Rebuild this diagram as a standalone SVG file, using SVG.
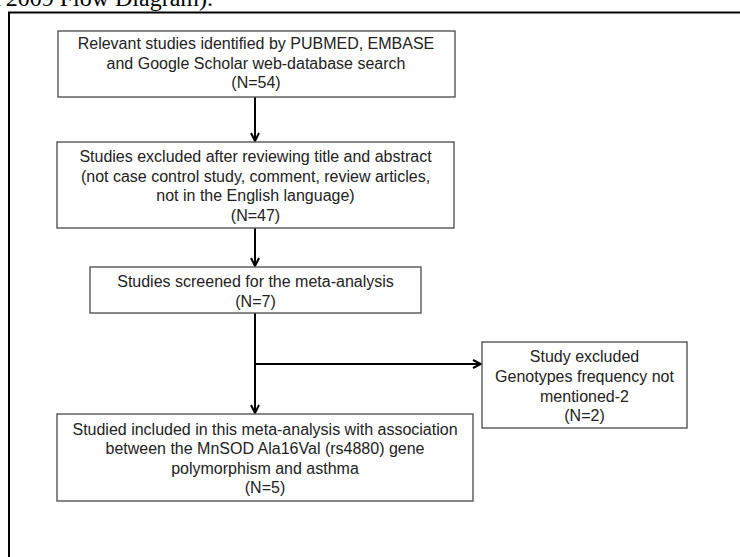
<svg xmlns="http://www.w3.org/2000/svg" width="740" height="557" viewBox="0 0 740 557">
<style>
.box{fill:#fff;stroke:#555;stroke-width:1.4}
.t{font-family:"Liberation Sans",Arial,sans-serif;font-size:16px;fill:#222;text-anchor:middle}
.c{fill:none;stroke:#000;stroke-width:2}
.cap{font-family:"Liberation Serif","Times New Roman",serif;font-size:24px;fill:#000;text-anchor:end}
</style>
<defs>
<marker id="ah" viewBox="0 0 10 10" refX="9" refY="5" markerWidth="10" markerHeight="10" markerUnits="userSpaceOnUse" orient="auto">
<path d="M1,1 L9,5 L1,9" fill="none" stroke="#000" stroke-width="2"/>
</marker>
</defs>
<rect width="740" height="557" fill="#fff"/>
<text class="cap" x="213" y="6">(PRISMA 2009 Flow Diagram).</text>
<path d="M9,557 V12.5 H740" fill="none" stroke="#000" stroke-width="2"/>
<g id="connectors">
<line class="c" x1="255" y1="97" x2="255" y2="141" marker-end="url(#ah)"/>
<line class="c" x1="255" y1="228" x2="255" y2="266" marker-end="url(#ah)"/>
<line class="c" x1="255" y1="313" x2="255" y2="413" marker-end="url(#ah)"/>
<line class="c" x1="255" y1="364" x2="481" y2="364" marker-end="url(#ah)"/>
</g>
<g id="n1">
<rect class="box" x="58" y="31" width="397" height="66"/>
<text class="t" x="256" y="49">Relevant studies identified by PUBMED, EMBASE</text>
<text class="t" x="256" y="68.5">and Google Scholar web-database search</text>
<text class="t" x="256" y="88">(N=54)</text>
</g>
<g id="n2">
<rect class="box" x="57" y="142" width="397" height="86"/>
<text class="t" x="255.5" y="162">Studies excluded after reviewing title and abstract</text>
<text class="t" x="255.5" y="182">(not case control study, comment, review articles,</text>
<text class="t" x="255.5" y="201">not in the English language)</text>
<text class="t" x="255.5" y="221">(N=47)</text>
</g>
<g id="n3">
<rect class="box" x="90" y="267" width="331" height="46"/>
<text class="t" x="255.5" y="287">Studies screened for the meta-analysis</text>
<text class="t" x="255.5" y="307">(N=7)</text>
</g>
<g id="n4">
<rect class="box" x="482" y="342" width="205" height="86"/>
<text class="t" x="584.5" y="362">Study excluded</text>
<text class="t" x="584.5" y="382">Genotypes frequency not</text>
<text class="t" x="584.5" y="401.5">mentioned-2</text>
<text class="t" x="584.5" y="421">(N=2)</text>
</g>
<g id="n5">
<rect class="box" x="57" y="414" width="416" height="87"/>
<text class="t" x="265" y="435">Studied included in this meta-analysis with association</text>
<text class="t" x="265" y="454">between the MnSOD Ala16Val (rs4880) gene</text>
<text class="t" x="265" y="474">polymorphism and asthma</text>
<text class="t" x="265" y="493">(N=5)</text>
</g>
</svg>
